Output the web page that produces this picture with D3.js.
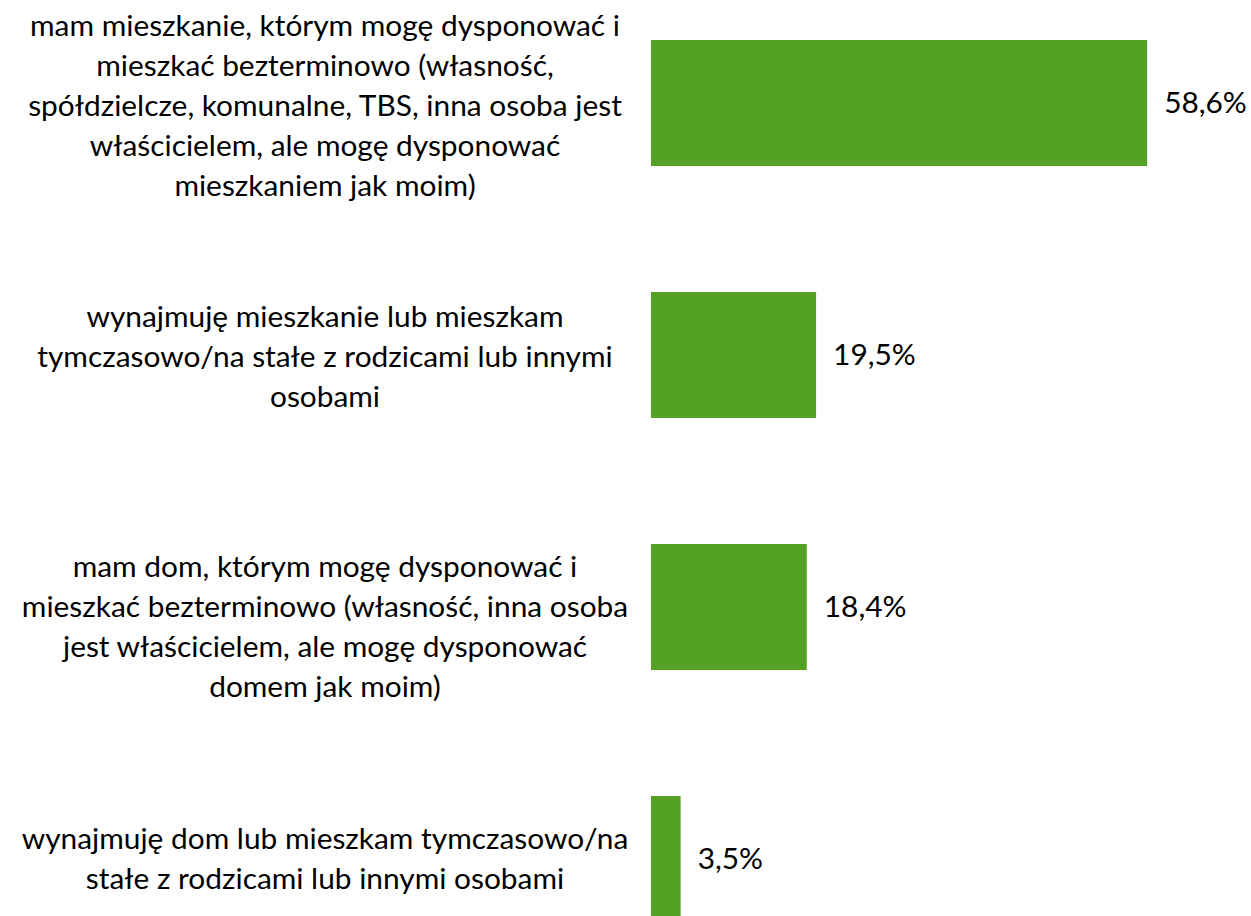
<!DOCTYPE html>
<html>
<head>
<meta charset="utf-8">
<script src="https://cdn.jsdelivr.net/npm/d3@7"></script>
<style>
  html, body { margin: 0; padding: 0; background: #fff; }
  svg text { font-family: Lato, "Open Sans", sans-serif; fill: #000; }
</style>
</head>
<body>
<svg id="chart"></svg>
<script>
// categories (line breaks as in the original chart)
const categories = [
    "mam mieszkanie, którym mogę dysponować i\nmieszkać bezterminowo (własność,\nspółdzielcze, komunalne, TBS, inna osoba jest\nwłaścicielem, ale mogę dysponować\nmieszkaniem jak moim)",
    "wynajmuję mieszkanie lub mieszkam\ntymczasowo/na stałe z rodzicami lub innymi\nosobami",
    "mam dom, którym mogę dysponować i\nmieszkać bezterminowo (własność, inna osoba\njest właścicielem, ale mogę dysponować\ndomem jak moim)",
    "wynajmuję dom lub mieszkam tymczasowo/na\nstałe z rodzicami lub innymi osobami"
];
const values = [58.6, 19.5, 18.4, 3.5];

const width = 1251;
const height = 916;
const barColor = "#55a125";
const labelCenterX = 325;    // centre of the category text column
const targetLineWidth = 590; // width of the first line in the reference
const lineHeight = 40;
const labelShift = [3, 2, 20, 0]; // small vertical offsets of the text blocks seen in the original

const svg = d3.select("#chart")
    .attr("width", width)
    .attr("height", height);

const x = d3.scaleLinear()
    .domain([0, 60])
    .range([651, 1159]);

const y = d3.scaleBand()
    .domain(categories)
    .range([-23, 985])
    .paddingInner(0.5)
    .paddingOuter(0.25);

// find a font size so the longest label line matches the reference width
const probe = svg.append("text")
    .style("font-size", "30px")
    .text(categories[0].split("\n")[0]);
const fontSize = 30 * targetLineWidth / probe.node().getComputedTextLength();
probe.remove();

// bars
svg.selectAll(".bar")
    .data(values)
    .enter().append("rect")
    .attr("class", "bar")
    .attr("x", x(0))
    .attr("y", (d, i) => y(categories[i]))
    .attr("width", d => x(d) - x(0))
    .attr("height", y.bandwidth())
    .style("fill", barColor);

// value labels
svg.selectAll(".value")
    .data(values)
    .enter().append("text")
    .attr("class", "value")
    .attr("x", d => x(d) + 17)
    .attr("y", (d, i) => y(categories[i]) + y.bandwidth() / 2)
    .attr("dy", "0.35em")
    .style("font-size", fontSize + "px")
    .text(d => d3.format(".1f")(d).replace(".", ",") + "%");

// category labels, centred multi-line blocks
const cat = svg.selectAll(".cat")
    .data(categories)
    .enter().append("text")
    .attr("class", "cat")
    .attr("text-anchor", "middle")
    .style("font-size", fontSize + "px");

cat.each(function(d, k) {
    const lines = d.split("\n");
    const cy = y(d) + y.bandwidth() / 2 + labelShift[k];
    const top = cy - (lines.length - 1) * lineHeight / 2;
    d3.select(this).selectAll("tspan")
        .data(lines)
        .enter().append("tspan")
        .attr("x", labelCenterX)
        .attr("y", (l, i) => top + i * lineHeight)
        .attr("dy", "0.35em")
        .text(l => l);
});
</script>
</body>
</html>
